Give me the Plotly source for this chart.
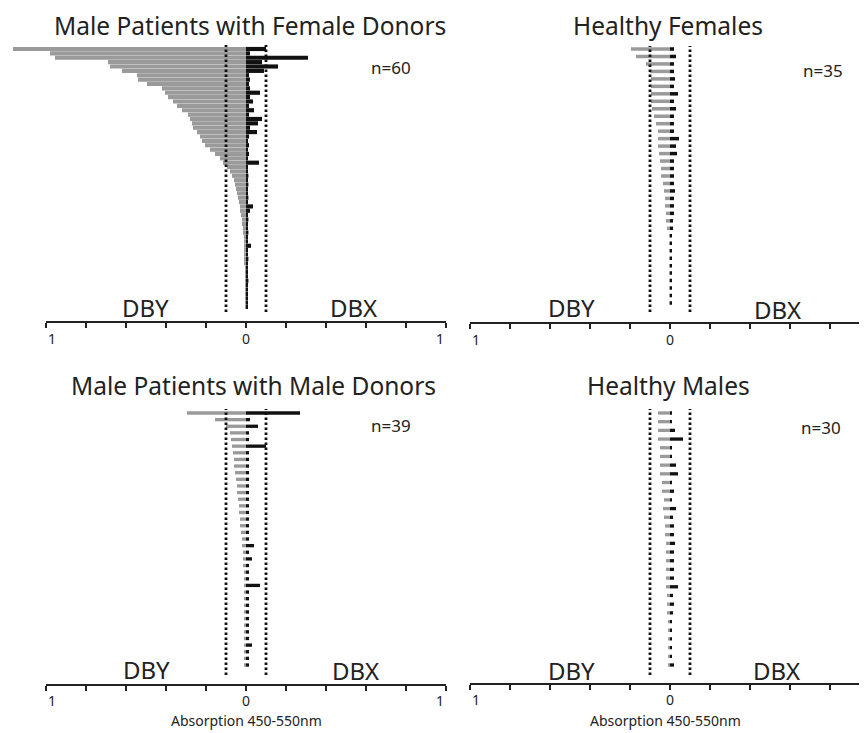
import plotly.graph_objects as go

# page body has an 8px margin: the figure is placed at (8, 8)
OFF = 8
W, H = 867 - OFF, 733 - OFF

# ---------------- data ----------------
titles = ["Male Patients with Female Donors", "Healthy Females",
          "Male Patients with Male Donors", "Healthy Males"]
n_labels = ["n=60", "n=35", "n=39", "n=30"]
side_labels = ["DBY", "DBX"]
tick_labels = ["1", "0", "1"]
axis_title = "Absorption 450-550nm"
threshold = 0.1

# Male patients with female donors (n=60)
mpfd_dby = [1.165, 0.98, 0.955, 0.69, 0.68, 0.62, 0.545, 0.54, 0.495, 0.42,
            0.405, 0.39, 0.365, 0.345, 0.32, 0.29, 0.28, 0.27, 0.265, 0.245,
            0.23, 0.22, 0.205, 0.18, 0.155, 0.13, 0.115, 0.095, 0.08, 0.07,
            0.06, 0.055, 0.05, 0.045, 0.04, 0.035, 0.03, 0.03, 0.025, 0.02,
            0.02, 0.015, 0.015, 0.01, 0.01, 0.01, 0.008, 0.007, 0.006, 0.006,
            0.005, 0.005, 0.005, 0.005, 0.005, 0.005, 0.005, 0.005, 0.005, 0.005]
mpfd_dbx = [0.10, 0.02, 0.31, 0.08, 0.16, 0.09, 0.015, 0.02, 0.015, 0.02,
            0.07, 0.02, 0.035, 0.015, 0.04, 0.015, 0.08, 0.06, 0.02, 0.055,
            0.015, 0.01, 0.015, 0.01, 0.015, 0.01, 0.065, 0.01, 0.01, 0.012,
            0.01, 0.012, 0.01, 0.01, 0.012, 0.01, 0.035, 0.02, 0.01, 0.012,
            0.01, 0.01, 0.012, 0.01, 0.01, 0.025, 0.01, 0.01, 0.012, 0.01,
            0.01, 0.01, 0.01, 0.012, 0.01, 0.01, 0.01, 0.01, 0.01, 0.01]

# Healthy females (n=35)
hf_dby = [0.195, 0.17, 0.12, 0.10, 0.095, 0.095, 0.095, 0.095, 0.09, 0.08,
          0.07, 0.06, 0.06, 0.06, 0.055, 0.05, 0.045, 0.045, 0.035, 0.03,
          0.025, 0.025, 0.02, 0.02, 0.015, 0.005, 0.005, 0.005, 0.005, 0.005,
          0.005, 0.005, 0.005, 0.005, 0.005]
hf_dbx = [0.02, 0.03, 0.02, 0.02, 0.025, 0.02, 0.04, 0.02, 0.03, 0.02,
          0.02, 0.02, 0.045, 0.03, 0.035, 0.02, 0.02, 0.02, 0.02, 0.025,
          0.02, 0.02, 0.02, 0.015, 0.015, 0.01, 0.01, 0.01, 0.01, 0.01,
          0.01, 0.01, 0.01, 0.01, 0.01]

# Male patients with male donors (n=39)
mpmd_dby = [0.295, 0.155, 0.10, 0.08, 0.075, 0.07, 0.065, 0.06, 0.06, 0.055,
            0.05, 0.045, 0.045, 0.04, 0.035, 0.035, 0.03, 0.03, 0.025, 0.02,
            0.02, 0.015, 0.015, 0.015, 0.01, 0.01, 0.01, 0.01, 0.01, 0.01,
            0.01, 0.01, 0.01, 0.01, 0.01, 0.01, 0.01, 0.01, 0.01]
mpmd_dbx = [0.27, 0.02, 0.06, 0.015, 0.015, 0.10, 0.015, 0.015, 0.015, 0.015,
            0.015, 0.015, 0.015, 0.015, 0.015, 0.015, 0.015, 0.015, 0.015, 0.015,
            0.04, 0.015, 0.03, 0.015, 0.015, 0.015, 0.07, 0.015, 0.015, 0.015,
            0.015, 0.015, 0.015, 0.015, 0.015, 0.03, 0.015, 0.015, 0.015]

# Healthy males (n=30)
hm_dby = [0.06, 0.06, 0.06, 0.06, 0.05, 0.05, 0.05, 0.05, 0.04, 0.04,
          0.03, 0.035, 0.03, 0.025, 0.025, 0.02, 0.02, 0.02, 0.02, 0.02,
          0.02, 0.015, 0.015, 0.015, 0.01, 0.01, 0.01, 0.01, 0.01, 0.01]
hm_dbx = [0.01, 0.01, 0.025, 0.065, 0.01, 0.01, 0.03, 0.04, 0.01, 0.02,
          0.01, 0.03, 0.015, 0.02, 0.02, 0.025, 0.02, 0.02, 0.02, 0.02,
          0.04, 0.015, 0.02, 0.015, 0.01, 0.01, 0.01, 0.01, 0.01, 0.02]

series = [(mpfd_dby, mpfd_dbx), (hf_dby, hf_dbx),
          (mpmd_dby, mpmd_dbx), (hm_dby, hm_dbx)]

# ---------------- layout geometry (window pixels) ----------------
panels = [
    dict(x0=8, x1=460, zero=246, top=40, bottom=322, r0=49, r1=307, bw=0.95,
         title=(250, 25), n=(391, 68), dby=(145, 307), dbx=(353, 308),
         tick_y=338, dash=(45, 312), absxy=None),
    dict(x0=460, x1=867, zero=670, top=40, bottom=323, r0=49, r1=303, bw=0.47,
         title=(668, 25), n=(823, 70), dby=(571, 308), dbx=(777, 309),
         tick_y=339, dash=(46, 312), absxy=None),
    dict(x0=8, x1=460, zero=246, top=405, bottom=685, r0=413, r1=665, bw=0.5,
         title=(253, 386), n=(391, 425), dby=(146, 669), dbx=(355, 670),
         tick_y=700, dash=(409, 675), absxy=(247, 720)),
    dict(x0=460, x1=867, zero=670, top=405, bottom=684, r0=413, r1=665, bw=0.38,
         title=(668, 386), n=(821, 427), dby=(571, 670), dbx=(776, 670),
         tick_y=699, dash=(409, 675), absxy=(665, 720)),
]
PX_PER_UNIT = 200.0
GREY = "#9a9a9a"
BLACK = "#111111"
TXT = "#222222"
FONT = "Noto Sans"


def px(x):
    return (x - OFF) / W


def py(y):
    return 1 - (y - OFF) / H


fig = go.Figure()
layout = dict(width=W, height=H, margin=dict(l=0, r=0, t=0, b=0),
              paper_bgcolor="white", plot_bgcolor="rgba(0,0,0,0)",
              showlegend=False, barmode="overlay", autosize=False)
annotations = []
shapes = []

for i, (p, (dby, dbx)) in enumerate(zip(panels, series)):
    k = "" if i == 0 else str(i + 1)
    xa, ya = "x" + k, "y" + k
    n = len(dby)
    rows = list(range(n))
    fig.add_trace(go.Bar(x=[-v for v in dby], y=rows, orientation="h",
                         width=p["bw"], marker=dict(color=GREY, line=dict(width=0)),
                         xaxis=xa, yaxis=ya, hoverinfo="skip"))
    fig.add_trace(go.Bar(x=dbx, y=rows, orientation="h",
                         width=p["bw"], marker=dict(color=BLACK, line=dict(width=0)),
                         xaxis=xa, yaxis=ya, hoverinfo="skip"))
    xr = [(p["x0"] - p["zero"]) / PX_PER_UNIT, (p["x1"] - p["zero"]) / PX_PER_UNIT]
    s = (p["r1"] - p["r0"]) / (n - 1)
    yr = [(p["bottom"] - p["r0"]) / s, (p["top"] - p["r0"]) / s]
    layout["xaxis" + k] = dict(domain=[px(p["x0"]), px(p["x1"])], range=xr,
                               anchor=ya, showgrid=False, zeroline=False,
                               showline=False, showticklabels=False,
                               ticks="outside", ticklen=5, tickwidth=1.6,
                               tickcolor=TXT,
                               tickvals=[j / 5 for j in range(-5, 6)],
                               fixedrange=True)
    layout["yaxis" + k] = dict(domain=[py(p["bottom"]), py(p["top"])], range=yr,
                               anchor=xa, visible=False, fixedrange=True)
    # axis line from 1 (DBY) to 1 (DBX)
    shapes.append(dict(type="line", xref=xa, yref="paper", x0=-1, x1=1,
                       y0=py(p["bottom"]), y1=py(p["bottom"]),
                       line=dict(color=TXT, width=2)))
    # threshold dotted lines
    for t in (-threshold, threshold):
        shapes.append(dict(type="line", xref=xa, yref="paper", x0=t, x1=t,
                           y0=py(p["dash"][1]), y1=py(p["dash"][0]),
                           line=dict(color=BLACK, width=2.8, dash="2.5px,2.5px")))
    # texts
    annotations.append(dict(text=titles[i], x=px(p["title"][0]), y=py(p["title"][1]),
                            xref="paper", yref="paper", showarrow=False,
                            xanchor="center", yanchor="middle",
                            font=dict(family=FONT, size=24.5, color=TXT)))
    annotations.append(dict(text=n_labels[i], x=px(p["n"][0]), y=py(p["n"][1]),
                            xref="paper", yref="paper", showarrow=False,
                            xanchor="center", yanchor="middle",
                            font=dict(family=FONT, size=17, color=TXT)))
    for lab, key in zip(side_labels, ("dby", "dbx")):
        annotations.append(dict(text=lab, x=px(p[key][0]), y=py(p[key][1]),
                                xref="paper", yref="paper", showarrow=False,
                                xanchor="center", yanchor="middle",
                                font=dict(family=FONT, size=24, color=TXT)))
    for lab, v in zip(tick_labels, (-0.97, 0.0, 0.97)):
        annotations.append(dict(text=lab, x=v, xref=xa, y=py(p["tick_y"]),
                                yref="paper", showarrow=False,
                                xanchor="center", yanchor="middle",
                                font=dict(family=FONT, size=14, color=TXT)))
    if p["absxy"] is not None:
        annotations.append(dict(text=axis_title, x=px(p["absxy"][0]),
                                y=py(p["absxy"][1]), xref="paper", yref="paper",
                                showarrow=False, xanchor="center", yanchor="middle",
                                font=dict(family=FONT, size=14, color=TXT)))

layout["annotations"] = annotations
layout["shapes"] = shapes
fig.update_layout(**layout)
fig.write_html("out.html")
